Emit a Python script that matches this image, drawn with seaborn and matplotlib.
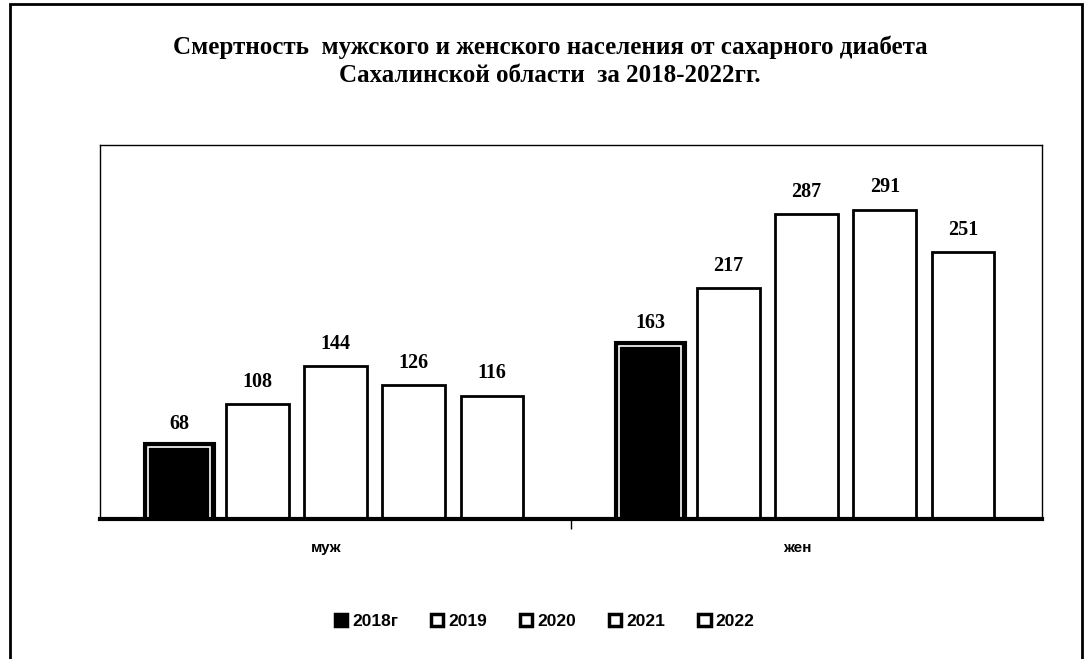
import numpy as np
import pandas as pd
import seaborn as sns
import matplotlib.pyplot as plt
import matplotlib.patheffects as pe
from matplotlib.patches import Rectangle

# data
groups = ["муж", "жен"]
years = ["2018г", "2019", "2020", "2021", "2022"]
muzh = [68, 108, 144, 126, 116]
zhen = [163, 217, 287, 291, 251]

df = pd.DataFrame({
    "sex": [groups[0]] * len(years) + [groups[1]] * len(years),
    "year": years + years,
    "val": muzh + zhen,
})

sns.set_theme(style="white", rc={"text.color": "black", "xtick.color": "black",
                                 "axes.labelcolor": "black"})
plt.rcParams['font.family'] = ['Liberation Sans', 'DejaVu Sans']

fig = plt.figure(figsize=(10.85, 6.59), dpi=100)
ax = fig.add_axes([0.0922, 0.2124, 0.8682, 0.5676])

pal = {"2018г": "black", "2019": "white", "2020": "white", "2021": "white", "2022": "white"}
sns.barplot(data=df, x="sex", y="val", hue="year", hue_order=years, order=groups,
            palette=pal, width=0.83, gap=0.2, edgecolor="black", linewidth=2,
            saturation=1, ax=ax, legend=True)

# bevelled look for the 2018 bars
for p in ax.containers[0]:
    p.set_edgecolor("white")
    p.set_linewidth(1.2)
    p.set_path_effects([pe.Stroke(linewidth=8, foreground="black"), pe.Normal()])

for c in ax.containers:
    ax.bar_label(c, fmt="%d", padding=9, fontsize=14.5, fontweight="bold",
                 family="Liberation Serif", color="black")

ax.set_ylim(0, 352)
ax.set_xlim(-0.5, 1.5)
ax.set_xlabel("")
ax.set_ylabel("")
ax.set_yticks([])
ax.set_xticks([-0.02, 0.98])
ax.set_xticklabels(groups, fontsize=11, fontweight="bold")
ax.set_xticks([0.5], minor=True)
ax.tick_params(axis="x", which="major", length=0, pad=16)
ax.tick_params(axis="x", which="minor", length=7, width=1, color="black", direction="out", bottom=True)
for s in ["left", "top", "right"]:
    ax.spines[s].set_color("black")
    ax.spines[s].set_linewidth(1)
ax.spines["bottom"].set_color("black")
ax.spines["bottom"].set_linewidth(3)

leg = ax.legend(loc="lower center", bbox_to_anchor=(0.502, 0.022), bbox_transform=fig.transFigure,
                ncol=5, frameon=False, handlelength=0.7, handleheight=0.7,
                handletextpad=0.3, columnspacing=1.9, prop={"weight": "bold", "size": 12.5})
for h in leg.legend_handles:
    h.set_edgecolor("black")
    h.set_linewidth(2.5)

fig.text(0.507, 0.907, "Смертность  мужского и женского населения от сахарного диабета\n"
         "Сахалинской области  за 2018-2022гг.", ha="center", va="center",
         fontsize=18, fontweight="bold", family="Liberation Serif", linespacing=1.3,
         color="black")

# outer frame of the scanned chart
fig.patches.append(Rectangle((0.009, -0.05), 0.988, 1.044, transform=fig.transFigure,
                             fill=False, edgecolor="black", linewidth=2))

fig.savefig("out.png", dpi=100)
